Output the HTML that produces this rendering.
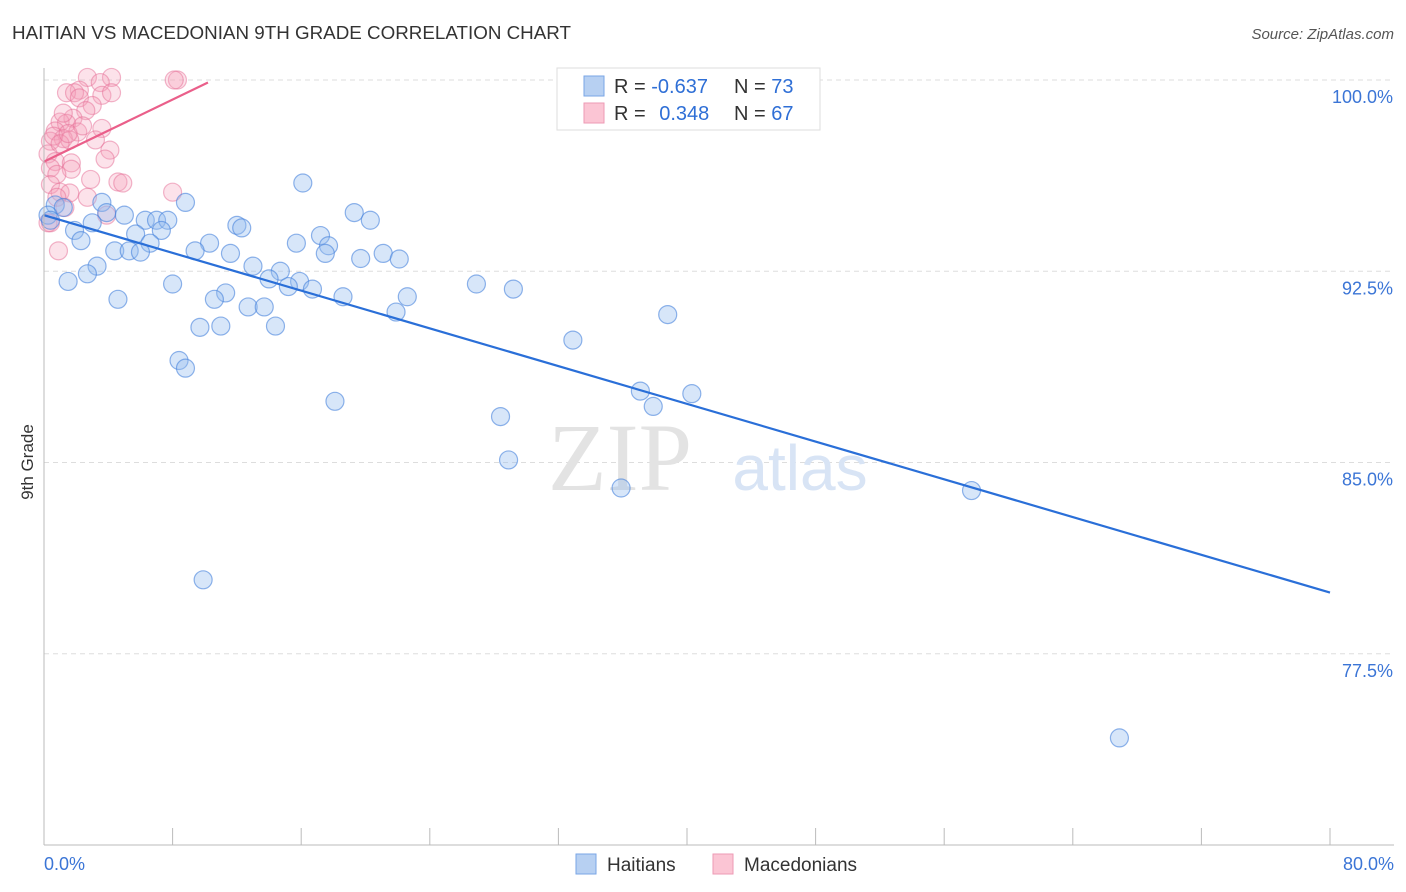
<!DOCTYPE html>
<html><head><meta charset="utf-8"><style>
body{margin:0;background:#fff;font-family:"Liberation Sans",sans-serif}
#wrap{position:relative;width:1406px;height:892px;overflow:hidden}
</style></head><body>
<div id="wrap">
<svg id="svg" width="1406" height="892" xmlns="http://www.w3.org/2000/svg">
<text x="12" y="39" font-size="18" fill="#333" textLength="559" lengthAdjust="spacingAndGlyphs">HAITIAN VS MACEDONIAN 9TH GRADE CORRELATION CHART</text>
<text x="1394" y="39" font-size="15" fill="#555" text-anchor="end" font-style="italic">Source: ZipAtlas.com</text>
<text x="33" y="462" font-size="17" fill="#333" transform="rotate(-90 33 462)" text-anchor="middle">9th Grade</text>
<g id="grid"></g>
<text x="620" y="490" font-size="96" fill="#e3e3e3" font-family="Liberation Serif,serif" text-anchor="middle">ZIP</text>
<text x="800" y="490" font-size="64" fill="#d8e4f5" text-anchor="middle">atlas</text>
<g id="pts"></g>
<g id="lines"></g>
<g id="axes"></g>
<g>
<rect x="557" y="68" width="263" height="62" fill="#fff" stroke="#ddd"/>
<rect x="584" y="76" width="20" height="20" fill="#b7d0f2" stroke="#7aa6e6"/>
<rect x="584" y="103" width="20" height="20" fill="#fbc5d4" stroke="#ee9ab4"/>
<text x="614" y="93" font-size="20" fill="#333">R = <tspan fill="#2f6fd6">-0.637</tspan></text>
<text x="734" y="93" font-size="20" fill="#333">N = <tspan fill="#2f6fd6">73</tspan></text>
<text x="614" y="120" font-size="20" fill="#333">R = <tspan fill="#2f6fd6" dx="8">0.348</tspan></text>
<text x="734" y="120" font-size="20" fill="#333">N = <tspan fill="#2f6fd6">67</tspan></text>
</g>
<g>
<rect x="576" y="854" width="20" height="20" fill="#b7d0f2" stroke="#7aa6e6"/>
<text x="607" y="871" font-size="19" fill="#333">Haitians</text>
<rect x="713" y="854" width="20" height="20" fill="#fbc5d4" stroke="#ee9ab4"/>
<text x="744" y="871" font-size="19" fill="#333">Macedonians</text>
</g>
</svg>
</div>
<script>
const blueX=[32.5,16.1,8.8,3.6,0.7,1.2,3.9,5.0,6.3,7.0,7.7,19.3,20.3,3.0,12.0,12.3,7.3,1.9,5.7,17.2,2.3,6.6,10.3,15.7,17.7,4.4,5.3,6.0,9.4,11.6,17.5,21.1,19.7,22.1,3.3,13.0,14.7,2.7,14.0,15.9,1.5,8.0,15.2,16.7,26.9,29.2,11.3,18.6,22.6,10.6,4.6,12.7,13.7,21.9,38.8,9.7,11.0,14.4,32.9,8.4,8.8,37.1,40.3,37.9,18.1,28.4,28.9,35.9,57.7,9.9,66.9,0.25,0.4];
const blueY=[100,95.96,95.2,95.2,95.1,95.0,94.8,94.7,94.5,94.5,94.5,94.8,94.5,94.4,94.3,94.2,94.1,94.1,93.96,93.9,93.7,93.6,93.6,93.6,93.5,93.3,93.3,93.25,93.3,93.2,93.2,93.2,93.0,92.98,92.7,92.7,92.5,92.4,92.2,92.1,92.1,92.0,91.9,91.8,92.0,91.8,91.65,91.5,91.5,91.4,91.4,91.1,91.1,90.9,90.8,90.3,90.35,90.35,89.8,89.0,88.7,87.8,87.7,87.2,87.4,86.8,85.1,84.0,83.9,80.4,74.2,94.7,94.5];
const pinkX=[2.7,4.2,8.3,3.5,2.2,1.4,1.9,3.6,4.2,2.2,3.0,2.6,1.8,1.0,1.4,0.7,2.1,3.6,1.2,0.4,1.6,3.2,4.1,3.8,0.25,0.7,1.7,0.4,1.7,0.8,2.9,4.6,4.9,0.4,1.0,1.6,8.0,2.7,0.8,1.3,3.9,0.4,0.9,0.6,1.0,1.2,0.25,8.1,1.5,2.4];
const pinkY=[100.1,100.1,100,99.9,99.6,99.5,99.5,99.4,99.5,99.3,99.0,98.8,98.5,98.35,98.3,98.0,97.96,98.1,97.7,97.6,97.65,97.65,97.25,96.9,97.1,96.8,96.75,96.55,96.5,96.3,96.1,96.0,95.96,95.9,95.6,95.57,95.6,95.4,95.4,95.0,94.7,94.4,93.3,97.8,97.5,98.7,94.4,100,97.9,98.2];
const blueTrend=[[0,94.7],[80,79.9]];
const pinkTrend=[[0,96.8],[10.2,99.9]];
const yTicks=[100,92.5,85,77.5];
const yTickLabels=["100.0%","92.5%","85.0%","77.5%"];
const xTicks=[0,8,16,24,32,40,48,56,64,72,80];

const X0=44,X1=1330,Y100=80,PX=25.5;
const sx=v=>X0+(X1-X0)*v/80;
const sy=v=>Y100+(100-v)*PX;
const NS="http://www.w3.org/2000/svg";
function mk(tag,attrs,parent){const e=document.createElementNS(NS,tag);for(const k in attrs)e.setAttribute(k,attrs[k]);parent.appendChild(e);return e;}
const grid=document.getElementById('grid'),axes=document.getElementById('axes'),pts=document.getElementById('pts'),lines=document.getElementById('lines');
yTicks.forEach((t,i)=>{
 const l=mk('line',{x1:X0,x2:1394,y1:sy(t),y2:sy(t),stroke:'#ddd','stroke-dasharray':'5,4'},grid);
 
 
 const tx=mk('text',{x:1393,y:sy(t)+23,'font-size':18,fill:'#3b75d6','text-anchor':'end'},axes);
 tx.textContent=yTickLabels[i];
 
 
});
const ya=mk('line',{x1:X0,x2:X0,y1:68,y2:845,stroke:'#bbb'},axes);


const xa=mk('line',{x1:X0,x2:1394,y1:845,y2:845,stroke:'#bbb'},axes);


xTicks.forEach(t=>{
 const l=mk('line',{x1:sx(t),x2:sx(t),y1:828,y2:845,stroke:'#bbb'},axes);
 
 
});
const xl0=mk('text',{x:44,y:870,'font-size':18,fill:'#3b75d6'},axes);xl0.textContent='0.0%';


const xl1=mk('text',{x:1394,y:870,'font-size':18,fill:'#3b75d6','text-anchor':'end'},axes);xl1.textContent='80.0%';


pinkX.forEach((x,i)=>{
 const c=mk('circle',{cx:sx(x),cy:sy(pinkY[i]),r:9,fill:'rgba(246,160,186,0.3)',stroke:'rgba(230,110,150,0.5)','stroke-width':1.2},pts);
 
 
});
blueX.forEach((x,i)=>{
 const c=mk('circle',{cx:sx(x),cy:sy(blueY[i]),r:9,fill:'rgba(150,190,240,0.38)',stroke:'rgba(70,130,220,0.6)','stroke-width':1.2},pts);
 
 
});
const bl=mk('line',{x1:sx(blueTrend[0][0]),y1:sy(blueTrend[0][1]),x2:sx(blueTrend[1][0]),y2:sy(blueTrend[1][1]),stroke:'#2a6fd8','stroke-width':2.2},lines);


const pl=mk('line',{x1:sx(pinkTrend[0][0]),y1:sy(pinkTrend[0][1]),x2:sx(pinkTrend[1][0]),y2:sy(pinkTrend[1][1]),stroke:'#ea5f8a','stroke-width':2.2},lines);


</script>
</body></html>
